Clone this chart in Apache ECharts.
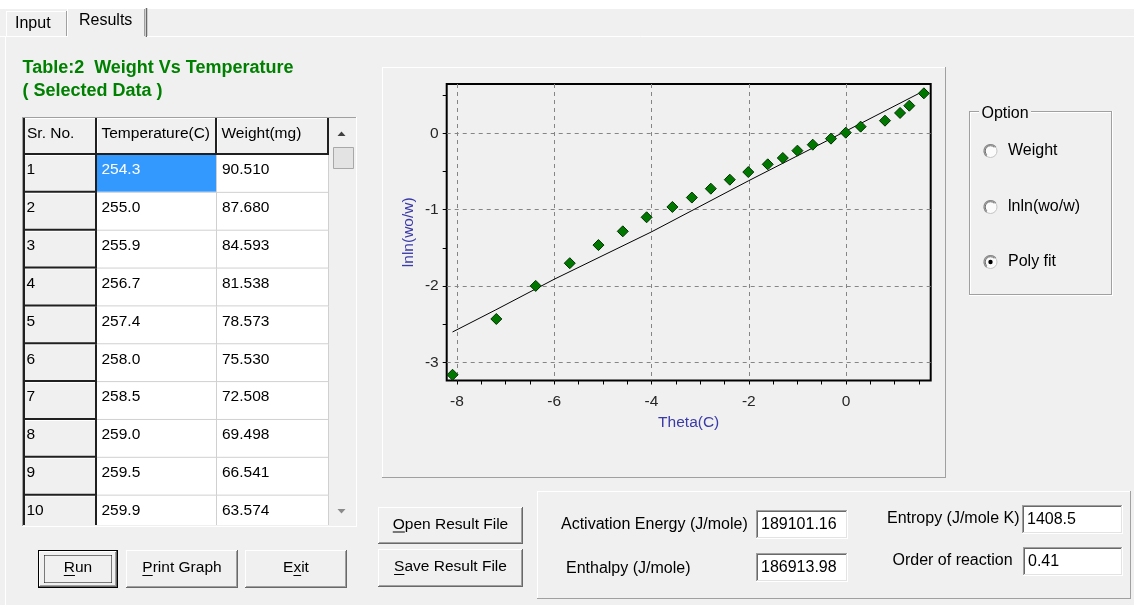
<!DOCTYPE html>
<html><head><meta charset="utf-8">
<script src="https://cdn.jsdelivr.net/npm/echarts@6/dist/echarts.min.js"></script>
<style>html,body{margin:0;padding:0;background:#f0f0f0;overflow:hidden}#c{width:1134px;height:605px}</style>
</head><body><div id="c"></div><script>
// ---------- data ----------
const thetaValues = [-8.09, -7.19, -6.38, -5.68, -5.09, -4.59, -4.10, -3.57, -3.17, -2.78, -2.39, -2.01, -1.61, -1.30, -1.00, -0.685, -0.31, -0.006, 0.30, 0.80, 1.11, 1.30, 1.60];
const lnlnValues  = [-3.16, -2.43, -1.997, -1.70, -1.463, -1.283, -1.099, -0.964, -0.841, -0.725, -0.607, -0.507, -0.406, -0.323, -0.227, -0.149, -0.070, 0.008, 0.087, 0.165, 0.266, 0.361, 0.523];
const fitTheta = [-8.09, -7.2, -6.0, -4.0, -2.0, 0.0, 1.6];
const fitLnln  = [-2.60, -2.31, -1.91, -1.29, -0.62, 0.03, 0.555];
const xMajorTicks = [-8, -6, -4, -2, 0];
const xMinorTicks = [-8, -7.5, -7, -6.5, -6, -5.5, -5, -4.5, -4, -3.5, -3, -2.5, -2, -1.5, -1, -0.5, 0, 0.5, 1, 1.5];
const yMajorTicks = [-3, -2, -1, 0];
const yMinorTicks = [-3, -2.5, -2, -1.5, -1, -0.5, 0, 0.5];
const xRange = [-8.21, 1.74];
const yRange = [-3.235, 0.645];

const tableHeaders = ['Sr. No.', 'Temperature(C)', 'Weight(mg)'];
const srNo = ['1','2','3','4','5','6','7','8','9','10'];
const temperatureC = ['254.3','255.0','255.9','256.7','257.4','258.0','258.5','259.0','259.5','259.9'];
const weightMg = ['90.510','87.680','84.593','81.538','78.573','75.530','72.508','69.498','66.541','63.574'];
const optionLabels = ['Weight', 'lnln(wo/w)', 'Poly fit'];
const selectedOption = 2;
const resultLabels = ['Activation Energy (J/mole)', 'Enthalpy (J/mole)', 'Entropy (J/mole K)', 'Order of reaction'];
const resultValues = ['189101.16', '186913.98', '1408.5', '0.41'];
const tabLabels = ['Input', 'Results'];
const titleLines = ['Table:2  Weight Vs Temperature', '( Selected Data )'];
const buttonLabels = ['Run', 'Print Graph', 'Exit', 'Open Result File', 'Save Result File'];

// ---------- helpers ----------
const FONT = '"Liberation Sans", Arial, sans-serif';
const G = [];
const mctx = document.createElement('canvas').getContext('2d');
function measure(s, size, bold) { mctx.font = (bold ? 'bold ' : '') + size + 'px ' + FONT; return mctx.measureText(s).width; }
function L(x1, y1, x2, y2, c, w, z, dash) {
  G.push({type: 'line', silent: true, z: z == null ? 3 : z, shape: {x1, y1, x2, y2},
    style: {stroke: c, lineWidth: w || 1, lineDash: dash || null}});
}
function R(x, y, w, h, fill, z, stroke) {
  G.push({type: 'rect', silent: true, z: z == null ? 1 : z, shape: {x, y, width: w, height: h},
    style: {fill: fill, stroke: stroke || null, lineWidth: 1}});
}
function T(x, y, s, o) {
  o = o || {};
  const size = o.size || 16;
  const font = (o.bold ? 'bold ' : '') + size + 'px ' + FONT;
  G.push({type: 'text', silent: true, z: o.z == null ? 6 : o.z, x: x, y: y,
    style: {text: s, fill: o.color || '#000', font: font, textAlign: o.align || 'left', align: o.align || 'left',
      textVerticalAlign: 'middle', verticalAlign: 'middle'}});
}
function raised(x, y, w, h, z) {
  L(x, y + .5, x + w - 1, y + .5, '#fff', 1, z); L(x + .5, y, x + .5, y + h - 1, '#fff', 1, z);
  L(x, y + h - .5, x + w, y + h - .5, '#696969', 1, z); L(x + w - .5, y, x + w - .5, y + h, '#696969', 1, z);
  L(x + 1, y + h - 1.5, x + w - 1, y + h - 1.5, '#a0a0a0', 1, z); L(x + w - 1.5, y + 1, x + w - 1.5, y + h - 1, '#a0a0a0', 1, z);
}
function panelRaised(x, y, w, h) {
  L(x, y + .5, x + w, y + .5, '#fff'); L(x + .5, y, x + .5, y + h, '#fff');
  L(x, y + h - .5, x + w, y + h - .5, '#a0a0a0'); L(x + w - .5, y, x + w - .5, y + h, '#a0a0a0');
}
function sunken(x, y, w, h) {
  R(x, y, w, h, '#fff', 1);
  L(x, y + .5, x + w, y + .5, '#a0a0a0'); L(x + .5, y, x + .5, y + h, '#a0a0a0');
  L(x + 1, y + 1.5, x + w - 1, y + 1.5, '#696969'); L(x + 1.5, y + 1, x + 1.5, y + h - 1, '#696969');
  L(x, y + h - .5, x + w, y + h - .5, '#fff'); L(x + w - .5, y, x + w - .5, y + h, '#fff');
  L(x + 1, y + h - 1.5, x + w - 1, y + h - 1.5, '#e3e3e3'); L(x + w - 1.5, y + 1, x + w - 1.5, y + h - 1, '#e3e3e3');
}
function etched(x, y, w, h) {
  L(x, y + .5, x + w, y + .5, '#a0a0a0'); L(x + .5, y, x + .5, y + h, '#a0a0a0');
  L(x, y + h - 1.5, x + w, y + h - 1.5, '#a0a0a0'); L(x + w - 1.5, y, x + w - 1.5, y + h, '#a0a0a0');
  L(x + 1, y + 1.5, x + w - 2, y + 1.5, '#fff'); L(x + 1.5, y + 1, x + 1.5, y + h - 2, '#fff');
  L(x, y + h - .5, x + w, y + h - .5, '#fff'); L(x + w - .5, y, x + w - .5, y + h, '#fff');
}
function button(x, y, w, h, label, ul, isDefault) {
  R(x, y, w, h, '#f0f0f0', 1);
  if (isDefault) {
    L(x, y + .5, x + w, y + .5, '#000'); L(x + .5, y, x + .5, y + h, '#000');
    L(x, y + h - .5, x + w, y + h - .5, '#000'); L(x + w - .5, y, x + w - .5, y + h, '#000');
    raised(x + 1, y + 1, w - 2, h - 2);
    const fx = x + 6.5, fy = y + 5.5, fw = w - 13, fh = h - 11;
    L(fx, fy, fx + fw, fy, '#000', 1, 4, [1, 1]); L(fx, fy + fh, fx + fw, fy + fh, '#000', 1, 4, [1, 1]);
    L(fx, fy, fx, fy + fh, '#000', 1, 4, [1, 1]); L(fx + fw, fy, fx + fw, fy + fh, '#000', 1, 4, [1, 1]);
  } else {
    raised(x, y, w, h);
  }
  const cx = x + w / 2, cy = y + h / 2 - 1;
  T(cx, cy, label, {align: 'center', size: 15.5});
  const W = measure(label, 15.5), P = measure(label.slice(0, ul), 15.5), C = measure(label.charAt(ul), 15.5);
  const sx = cx - W / 2 + P;
  L(sx, cy + 7.5, sx + C, cy + 7.5, '#000', 1, 6);
}
function radio(cx, cy, checked) {
  G.push({type: 'circle', silent: true, z: 3, shape: {cx, cy, r: 6.5}, style: {fill: '#fbfbfb', stroke: '#c4c4c4', lineWidth: 1}});
  G.push({type: 'arc', silent: true, z: 4, shape: {cx, cy, r: 6.5, startAngle: Math.PI * 0.7, endAngle: Math.PI * 1.8}, style: {stroke: '#8a8a8a', fill: null, lineWidth: 1.2}});
  G.push({type: 'arc', silent: true, z: 4, shape: {cx, cy, r: 5.3, startAngle: Math.PI * 0.75, endAngle: Math.PI * 1.75}, style: {stroke: '#5a5a5a', fill: null, lineWidth: 0.9}});
  if (checked) G.push({type: 'circle', silent: true, z: 5, shape: {cx, cy, r: 2.2}, style: {fill: '#000'}});
}

// ---------- window chrome ----------
R(0, 0, 1134, 9, '#fff', 0);
// tabs
L(6.5, 11, 6.5, 36, '#fff'); L(6, 11.5, 67, 11.5, '#fff'); L(66.5, 11, 66.5, 36, '#a0a0a0');
L(67.5, 8, 67.5, 37, '#fff'); L(67, 8.5, 146, 8.5, '#fff');
L(146.5, 8, 146.5, 37, '#696969', 1.5); L(144.5, 9, 144.5, 36, '#a0a0a0');
L(0, 36.5, 67, 36.5, '#fff'); L(147, 36.5, 1134, 36.5, '#fff');
L(5.5, 37, 5.5, 605, '#fff');
T(15, 24, tabLabels[0]);
T(79, 21, tabLabels[1]);
// title
T(22.5, 68, titleLines[0], {bold: true, size: 18, color: '#008000'});
T(22.5, 91.5, titleLines[1], {bold: true, size: 18, color: '#008000'});

// ---------- table ----------
const tx0 = 22, ty0 = 117, tx1 = 357, ty1 = 527;
const colX = [24, 97, 217, 329];
const scrollR = 355;
const headTop = 118, headBot = 155, rowH = 37.85, innerBot = 525;
R(tx0, ty0, tx1 - tx0, ty1 - ty0, '#f0f0f0', 0);
R(colX[1], headBot, colX[3] - colX[1], innerBot - headBot, '#fff', 1);
L(tx0, ty0 + .5, tx1, ty0 + .5, '#a0a0a0'); L(tx0 + .5, ty0, tx0 + .5, ty1, '#a0a0a0');
L(tx0, ty1 - .5, tx1, ty1 - .5, '#fff'); L(tx1 - .5, ty0, tx1 - .5, ty1, '#fff');
L(24, ty0 + 1, 24, innerBot, '#202020', 2, 5);
// header cells
for (let c = 0; c < 3; c++) {
  const x0 = colX[c], x1 = colX[c + 1];
  L(x0 + 1, headTop + .5, x1 - 2, headTop + .5, '#fff');
  if (c > 0) L(x0 + .5, headTop, x0 + .5, headBot - 2, '#fff');
  L(x1 - 1, headTop, x1 - 1, headBot, '#202020', 2, 5);
  L(x0, headBot - 1, x1, headBot - 1, '#202020', 2, 5);
  T(x0 + (c === 0 ? 3 : 4.5), 133.5, tableHeaders[c], {size: 15.5});
}
// rows
for (let i = 0; i < srNo.length; i++) {
  const top = headBot + i * rowH;
  const bot = Math.min(top + rowH, innerBot);
  L(colX[0] + 1, top + .5, colX[1] - 2, top + .5, '#fff', 1, 4);
  L(colX[1] - 1, top, colX[1] - 1, bot, '#202020', 2, 5);
  if (top + rowH <= innerBot) L(colX[0], top + rowH - 1, colX[1], top + rowH - 1, '#202020', 2, 5);
  T(colX[0] + 2.5, top + 15, srNo[i], {size: 15.5});
  if (top + rowH <= innerBot) L(colX[1], top + rowH - .5, colX[3], top + rowH - .5, '#d0d0d0', 1, 3);
  L(colX[2] - .5, top, colX[2] - .5, bot, '#d0d0d0', 1, 3);
  L(colX[3] - .5, top, colX[3] - .5, bot, '#d0d0d0', 1, 3);
  if (i === 0) R(colX[1], top, colX[2] - colX[1] - 1, rowH - 1, '#3399ff', 2);
  T(colX[1] + 4.5, top + 15, temperatureC[i], {size: 15.5, color: i === 0 ? '#fff' : '#000'});
  T(colX[2] + 5, top + 15, weightMg[i], {size: 15.5});
}
// scrollbar
R(colX[3], headTop, scrollR - colX[3], innerBot - headTop, '#f0f0f0', 1);
G.push({type: 'polygon', silent: true, z: 5, shape: {points: [[337.5, 136], [345.5, 136], [341.5, 131.5]]}, style: {fill: '#404040'}});
G.push({type: 'polygon', silent: true, z: 5, shape: {points: [[337.5, 509], [345.5, 509], [341.5, 513.5]]}, style: {fill: '#8a8a8a'}});
R(333.5, 147.5, 20, 21, '#e3e3e3', 3, '#a8a8a8');

// buttons below table
button(38, 550, 80, 38, buttonLabels[0], 0, true);
button(126, 550, 112, 38, buttonLabels[1], 0, false);
button(245, 550, 102, 38, buttonLabels[2], 1, false);

// ---------- chart panel ----------
panelRaised(382, 67, 564, 411);

// ---------- option group ----------
etched(969, 111, 144, 185);
R(979, 104, 52, 18, '#f0f0f0', 4);
T(981.5, 114, 'Option', {z: 6});
const radioY = [151, 207, 262];
for (let i = 0; i < optionLabels.length; i++) {
  radio(990.5, radioY[i], i === selectedOption);
  T(1008, radioY[i], optionLabels[i]);
}

// ---------- result buttons & group ----------
button(378, 507, 145, 37, buttonLabels[3], 0, false);
button(378, 549, 145, 38, buttonLabels[4], 0, false);
panelRaised(537, 491, 594, 108);
const lblPos = [[561, 525], [566, 568.5], [887, 518.5], [892.5, 561]];
const boxPos = [[756, 510, 92, 29], [756, 553, 92, 29], [1022, 505, 101, 29], [1023, 547, 100, 29]];
for (let i = 0; i < resultLabels.length; i++) {
  T(lblPos[i][0], lblPos[i][1], resultLabels[i]);
  const b = boxPos[i];
  sunken(b[0], b[1], b[2], b[3]);
  T(b[0] + 5, b[1] + b[3] / 2, resultValues[i]);
}

// ---------- chart ----------
const scatterData = thetaValues.map((v, i) => [v, lnlnValues[i]]);
const fitData = fitTheta.map((v, i) => [v, fitLnln[i]]);
const intLabel = v => String(Math.round(v));
const axisText = {color: '#262626', fontSize: 15.5, fontFamily: FONT};
const nameText = {color: '#3a3aa8', fontSize: 15.5, fontFamily: FONT};
const splitStyle = {show: true, lineStyle: {color: '#858585', type: [4, 4], width: 1}};

const chart = echarts.init(document.getElementById('c'), null, {renderer: 'canvas'});
chart.setOption({
  animation: false,
  backgroundColor: '#f0f0f0',
  textStyle: {fontFamily: FONT},
  grid: {left: 446.7, right: 203.3, top: 84, bottom: 224.5, show: true, borderColor: '#000', borderWidth: 2, backgroundColor: 'transparent', containLabel: false},
  xAxis: [
    {type: 'value', min: xRange[0], max: xRange[1], position: 'bottom',
      axisLine: {show: false, onZero: false}, axisTick: {show: false, customValues: xMajorTicks},
      axisLabel: {show: true, customValues: xMajorTicks, margin: 13, formatter: intLabel, ...axisText},
      splitLine: splitStyle,
      name: 'Theta(C)', nameLocation: 'middle', nameGap: 34, nameTextStyle: nameText},
    {type: 'value', min: xRange[0], max: xRange[1], position: 'bottom',
      axisLine: {show: false, onZero: false}, axisTick: {show: true, customValues: xMinorTicks, length: 4, lineStyle: {color: '#000', width: 1}},
      axisLabel: {show: false}, splitLine: {show: false}}
  ],
  yAxis: [
    {type: 'value', min: yRange[0], max: yRange[1], position: 'left',
      axisLine: {show: false, onZero: false}, axisTick: {show: false, customValues: yMajorTicks},
      axisLabel: {show: true, customValues: yMajorTicks, margin: 8, formatter: intLabel, ...axisText},
      splitLine: splitStyle,
      name: 'lnln(wo/w)', nameLocation: 'middle', nameGap: 30, nameRotate: 90, nameTextStyle: nameText},
    {type: 'value', min: yRange[0], max: yRange[1], position: 'left',
      axisLine: {show: false, onZero: false}, axisTick: {show: true, customValues: yMinorTicks, length: 4, lineStyle: {color: '#000', width: 1}},
      axisLabel: {show: false}, splitLine: {show: false}}
  ],
  series: [
    {type: 'line', xAxisIndex: 0, yAxisIndex: 0, data: fitData, symbol: 'none', silent: true,
      lineStyle: {color: '#000', width: 1}, z: 3},
    {type: 'scatter', xAxisIndex: 0, yAxisIndex: 0, data: scatterData, symbol: 'diamond', symbolSize: 11,
      itemStyle: {color: '#007800', borderColor: '#003000', borderWidth: 1, opacity: 1}, z: 4}
  ],
  graphic: {elements: G}
});
</script></body></html>
